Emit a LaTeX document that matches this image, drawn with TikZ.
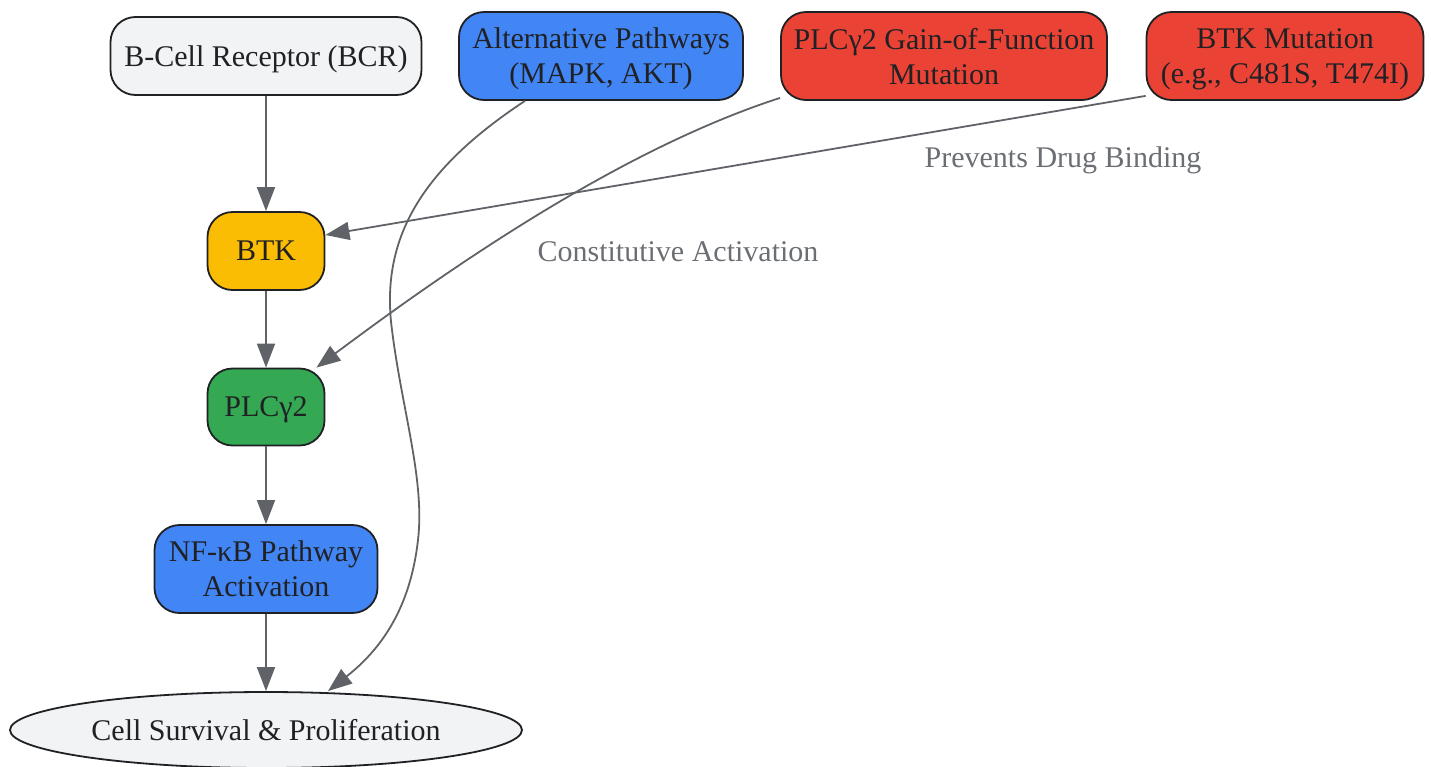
\documentclass[tikz,border=0pt]{standalone}
\usepackage{fontspec}
\setmainfont{Liberation Serif}
\usetikzlibrary{arrows.meta,shapes.geometric}
\definecolor{boxline}{HTML}{202124}
\definecolor{textdark}{HTML}{202124}
\definecolor{edgegray}{HTML}{5F6368}
\definecolor{lblgray}{HTML}{6B6E73}
\definecolor{palegray}{HTML}{F1F3F4}
\definecolor{gblue}{HTML}{4285F4}
\definecolor{gred}{HTML}{EA4335}
\definecolor{gyellow}{HTML}{FBBC04}
\definecolor{ggreen}{HTML}{34A853}

\begin{document}
\begin{tikzpicture}[x=1pt,y=-1pt,
                >={Triangle[length=24pt,width=18pt]},
                box/.style={draw=boxline,line width=1.8pt,rounded corners=25pt,align=center,
                    text=textdark,inner sep=0pt,text depth=0pt,font=\fontsize{30}{35}\selectfont},
                edge/.style={draw=edgegray,line width=1.8pt},
                lbl/.style={text=lblgray,inner sep=0pt,text depth=0pt,font=\fontsize{30}{35}\selectfont}]
                \useasboundingbox (0,0) rectangle (1431,766);
                \node[box,fill=palegray,minimum width=311pt,minimum height=78pt] (BCR) at (266,56) {B-Cell Receptor (BCR)};
                \node[box,fill=gblue,minimum width=284pt,minimum height=88pt] (ALT) at (601,56) {Alternative Pathways\\(MAPK, AKT)};
                \node[box,fill=gred,minimum width=326pt,minimum height=88pt] (GOF) at (944,56) {PLCγ2 Gain-of-Function\\Mutation};
                \node[box,fill=gred,minimum width=277pt,minimum height=88pt] (MUT) at (1285,56) {BTK Mutation\\(e.g., C481S, T474I)};
                \node[box,fill=gyellow,minimum width=117pt,minimum height=78pt] (BTK) at (266,251) {BTK};
                \node[box,fill=ggreen,minimum width=117pt,minimum height=77pt] (PLC) at (266,407) {PLCγ2};
                \node[box,fill=gblue,minimum width=223pt,minimum height=88pt] (NFKB) at (266,569) {NF-κB Pathway\\Activation};
                \node[ellipse,draw=boxline,line width=1.8pt,fill=palegray,text=textdark,inner sep=0pt,text depth=0pt,
                    minimum width=512pt,minimum height=76pt,font=\fontsize{30}{35}\selectfont] (CELL) at (266,730) {Cell Survival \& Proliferation};
                \draw [edge,->] (BCR) -- (BTK);
                \draw [edge,->] (BTK) -- (PLC);
                \draw [edge,->] (PLC) -- (NFKB);
                \draw [edge,->] (NFKB) -- (CELL);
                \draw [edge,->] ([xshift=-76pt]ALT.south) .. controls (420,170) and (380,240) .. (392,330)
                    .. controls (402,410) and (425,480) .. (418,540)
                    .. controls (410,610) and (380,650) .. ([xshift=62pt]CELL.north);
                \draw [edge,->] ([xshift=-164pt,yshift=3pt]GOF.south) .. controls (650,140) and (500,230) .. ([xshift=-9pt]PLC.north east);
                \draw [edge,->] ([yshift=5pt]MUT.south west) -- ([yshift=16pt]BTK.east);
                \node[lbl] (L1) at (678,252) {Constitutive Activation};
                \node[lbl] (L2) at (1063,157) {Prevents Drug Binding};
            \end{tikzpicture}
\end{document}
